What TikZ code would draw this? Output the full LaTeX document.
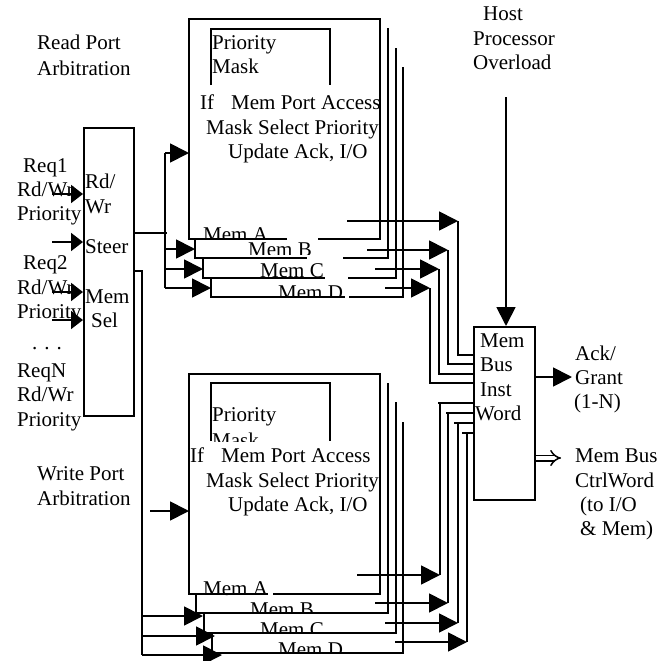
\documentclass[tikz,border=0pt]{standalone}
\usepackage{fontspec}
\setmainfont{Liberation Serif}
\usetikzlibrary{arrows.meta}
\tikzset{
 ln/.style={line width=1.8pt},
 arr/.style={ln, -{Triangle[length=19pt,width=19pt]}},
 arrs/.style={ln, -{Triangle[length=12pt,width=18pt]}},
 txt/.style={anchor=base west, inner sep=0pt, font=\fontsize{21}{24.5}\selectfont},
 box/.style={draw, ln, inner sep=0pt, anchor=north west, fill=white},
}
\newcommand\tx[4]{\node[txt] (#1) at (#2,#3) {#4};}
\newcommand\ctx[5]{\begin{scope}\clip (#2-5,#3-30) rectangle (#2+100,#4); \node[txt] (#1) at (#2,#3) {#5};\end{scope}}
\begin{document}
\begin{tikzpicture}[x=1pt,y=-1pt]
\fill[white] (0,0) rectangle (672,661);
\useasboundingbox (0,0) rectangle (672,661);

% boxes
\node[box, minimum width=50pt, minimum height=288pt] (steer) at (83,127) {};
\node[box, minimum width=61pt, minimum height=173pt] (bus) at (473,326) {};

% left texts
\tx{rp1}{37}{50}{Read Port}
\tx{rp2}{37}{75}{Arbitration}
\tx{r1a}{23}{172}{Req1}
\tx{r1b}{17}{196}{Rd/Wr}
\tx{r1c}{17}{220}{Priority}
\tx{r2a}{23}{269}{Req2}
\tx{r2b}{17}{294}{Rd/Wr}
\tx{r2c}{17}{318}{Priority}
\tx{dots}{32}{349}{. . .}
\tx{rna}{17}{377}{ReqN}
\tx{rnb}{17}{401}{Rd/Wr}
\tx{rnc}{17}{426}{Priority}
\tx{wp1}{37}{480}{Write Port}
\tx{wp2}{37}{505}{Arbitration}

% steer texts
\tx{s1}{85}{188}{Rd/}
\tx{s2}{85}{213}{Wr}
\tx{s3}{85}{253}{Steer}
\tx{s4}{85}{303}{Mem}
\tx{s5}{91}{327}{Sel}

% top box texts
\tx{tp1}{212}{49}{Priority}
\tx{tp2}{212}{74}{Mask}
\tx{tl1}{200}{110}{If\hspace{17pt}Mem Port Access}
\tx{tl2}{206}{134}{Mask Select Priority}
\tx{tl3}{228}{158}{Update Ack, I/O}
\ctx{tma}{203}{241}{238}{Mem A}
\ctx{tmb}{248}{256}{254}{Mem B}
\tx{tmc}{260}{277}{Mem C}
\ctx{tmd}{278}{299}{295}{Mem D}

% bottom box texts
\tx{bp1}{212}{421}{Priority}
\ctx{bp2}{212}{447}{441}{Mask}
\tx{bl1}{190}{462}{If\hspace{17pt}Mem Port Access}
\tx{bl2}{206}{487}{Mask Select Priority}
\tx{bl3}{228}{511}{Update Ack, I/O}
\tx{bma}{203}{595}{Mem A}
\ctx{bmb}{250}{616}{611}{Mem B}
\ctx{bmc}{260}{636}{631}{Mem C}
\ctx{bmd}{278}{656}{652}{Mem D}

% right texts
\tx{h1}{483}{21}{Host}
\tx{h2}{473}{46}{Processor}
\tx{h3}{473}{70}{Overload}
\tx{b1}{480}{347}{Mem}
\tx{b2}{480}{371}{Bus}
\tx{b3}{480}{396}{Inst}
\tx{b4}{475}{420}{Word}
\tx{a1}{575}{360}{Ack/}
\tx{a2}{575}{384}{Grant}
\tx{a3}{574}{408}{(1-N)}
\tx{c1}{575}{462}{Mem Bus}
\tx{c2}{575}{487}{CtrlWord}
\tx{c3}{580}{511}{(to I/O}
\tx{c4}{580}{535}{\& Mem)}

% top stacked boxes
\draw[ln] (287,239) -- (189,239) -- (189,19) -- (380,19) -- (380,239) -- (318,239);
\draw[ln] (195,239) -- (195,258) -- (307,258);
\draw[ln] (343,258) -- (388,258) -- (388,28);
\draw[ln] (203,258) -- (203,278) -- (325,278);
\draw[ln] (348,278) -- (396,278) -- (396,48);
\draw[ln] (211,278) -- (211,297) -- (345,297);
\draw[ln] (349,297) -- (403,297) -- (403,67);
\draw[ln] (211,85) -- (211,29) -- (330,29) -- (330,85);

% bottom stacked boxes
\draw[ln] (268,594) -- (189,594) -- (189,374) -- (380,374) -- (380,594) -- (273,594);
\draw[ln] (196,594) -- (196,613) -- (388,613) -- (388,383);
\draw[ln] (204,613) -- (204,633) -- (396,633) -- (396,402);
\draw[ln] (212,633) -- (212,653) -- (403,653) -- (403,422);
\draw[ln] (211,441) -- (211,383) -- (330,383) -- (330,441);

% left inputs
\draw[arrs] (52,194) -- (steer.west |- 0,194);
\draw[arrs] (52,242) -- (steer.west |- 0,242);
\draw[arrs] (52,292) -- (steer.west |- 0,292);
\draw[arrs] (52,320) -- (steer.west |- 0,320);

% top feed
\draw[ln] (steer.east |- 0,233) -- (167,233);
\draw[ln] (165,153) -- (165,288);
\draw[arr] (165,153) -- (189,153);
\draw[arr] (165,249) -- (195,249);
\draw[arr] (165,269) -- (203,269);
\draw[arr] (165,288) -- (211,288);

% bottom feed
\draw[ln] (steer.east |- 0,271) -- (143,271);
\draw[ln] (142,271) -- (142,655);
\draw[arr] (142,616) -- (203,616);
\draw[arr] (142,636) -- (215,636);
\draw[arr] (142,655) -- (222,655);
\draw[arr] (150,511) -- (189,511);

% top outputs
\draw[arr] (347,221) -- (458,221);
\draw[ln] (458,221) -- (458,355) -- (bus.west |- 0,355);
\draw[arr] (367,250) -- (448,250);
\draw[ln] (448,250) -- (448,364) -- (bus.west |- 0,364);
\draw[arr] (375,269) -- (439,269);
\draw[ln] (439,269) -- (439,374) -- (bus.west |- 0,374);
\draw[arr] (385,288) -- (430,288);
\draw[ln] (430,288) -- (430,383) -- (bus.west |- 0,383);

% bottom outputs
\draw[arr] (357,575) -- (440,575);
\draw[ln] (440,575) -- (440,403);
\draw[ln] (438,403) -- (bus.west |- 0,403);
\draw[arr] (375,603) -- (448,603);
\draw[ln] (448,603) -- (448,413);
\draw[ln] (446,413) -- (bus.west |- 0,413);
\draw[arr] (385,623) -- (458,623);
\draw[ln] (458,623) -- (458,423);
\draw[ln] (454,423) -- (bus.west |- 0,423);
\draw[arr] (395,642) -- (467,642);
\draw[ln] (467,642) -- (467,433);
\draw[ln] (462,433) -- (bus.west |- 0,433);

% host and outputs of bus box
\draw[arr] (506,97) -- (bus.north -| 506,0);
\draw[arr] (bus.east |- 0,377) -- (572,377);
\draw[line width=1.5pt, double, double distance=4pt, -{Implies}] (bus.east |- 0,458) -- (561,458);
\end{tikzpicture}
\end{document}
